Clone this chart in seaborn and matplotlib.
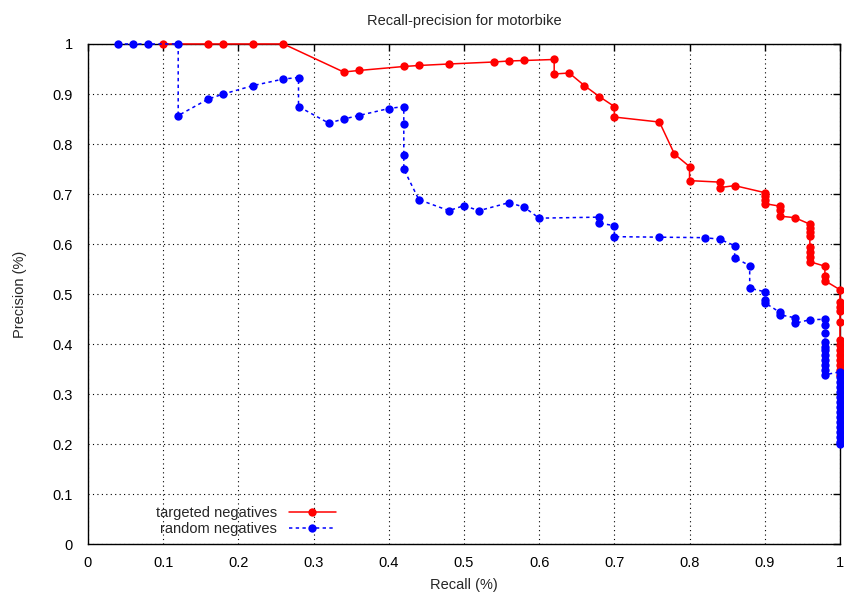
import numpy as np
import pandas as pd
import matplotlib
matplotlib.use("Agg")
import matplotlib.pyplot as plt
import seaborn as sns

# targeted negatives (red)
recall_targeted = [0.10, 0.16, 0.18, 0.22, 0.26, 0.34, 0.36, 0.42, 0.44, 0.48,
                   0.54, 0.56, 0.58, 0.62, 0.62, 0.64, 0.66, 0.68, 0.70, 0.70,
                   0.76, 0.78, 0.80, 0.80, 0.84, 0.84, 0.86, 0.90, 0.90, 0.90,
                   0.90, 0.92, 0.92, 0.92, 0.94, 0.96, 0.96, 0.96, 0.96, 0.96,
                   0.96, 0.96, 0.96, 0.98, 0.98, 0.98, 1.0, 1.0, 1.0, 1.0,
                   1.0, 1.0, 1.0, 1.0, 1.0, 1.0, 1.0, 1.0, 1.0]
precision_targeted = [1.0, 1.0, 1.0, 1.0, 1.0, 0.944, 0.947, 0.955, 0.957, 0.96,
                      0.964, 0.966, 0.967, 0.969, 0.94, 0.942, 0.917, 0.895, 0.875, 0.854,
                      0.844, 0.78, 0.755, 0.727, 0.724, 0.713, 0.717, 0.703, 0.697, 0.688,
                      0.681, 0.676, 0.668, 0.656, 0.653, 0.64, 0.632, 0.625, 0.617, 0.595,
                      0.585, 0.575, 0.565, 0.556, 0.537, 0.527, 0.509, 0.485, 0.475, 0.467,
                      0.445, 0.408, 0.398, 0.388, 0.378, 0.368, 0.358, 0.348, 0.338]

# random negatives (blue)
recall_random = [0.04, 0.06, 0.08, 0.12, 0.12, 0.16, 0.18, 0.22, 0.26, 0.28,
                 0.28, 0.32, 0.34, 0.36, 0.40, 0.42, 0.42, 0.42, 0.42, 0.44,
                 0.48, 0.50, 0.52, 0.56, 0.58, 0.60, 0.68, 0.68, 0.70, 0.70,
                 0.76, 0.82, 0.84, 0.86, 0.86, 0.88, 0.88, 0.90, 0.90, 0.90,
                 0.92, 0.92, 0.94, 0.94, 0.96,
                 0.98, 0.98, 0.98, 0.98, 0.98, 0.98, 0.98, 0.98, 0.98, 0.98, 0.98,
                 1.0, 1.0, 1.0, 1.0, 1.0, 1.0, 1.0, 1.0, 1.0, 1.0, 1.0, 1.0, 1.0,
                 1.0, 1.0, 1.0]
precision_random = [1.0, 1.0, 1.0, 1.0, 0.857, 0.89, 0.9, 0.917, 0.93, 0.933,
                    0.875, 0.842, 0.85, 0.857, 0.871, 0.875, 0.84, 0.778, 0.75, 0.689,
                    0.667, 0.677, 0.667, 0.683, 0.674, 0.652, 0.654, 0.642, 0.637, 0.615,
                    0.614, 0.613, 0.61, 0.597, 0.573, 0.557, 0.512, 0.505, 0.489, 0.483,
                    0.464, 0.459, 0.453, 0.442, 0.449,
                    0.45, 0.439, 0.422, 0.405, 0.395, 0.389, 0.379, 0.369, 0.359, 0.349, 0.339,
                    0.345, 0.335, 0.325, 0.315, 0.305, 0.295, 0.285, 0.275, 0.265, 0.255,
                    0.245, 0.235, 0.225, 0.215, 0.205, 0.2]

tick_vals = [0, 0.1, 0.2, 0.3, 0.4, 0.5, 0.6, 0.7, 0.8, 0.9, 1]
tick_labels = ["0", "0.1", "0.2", "0.3", "0.4", "0.5", "0.6", "0.7", "0.8", "0.9", "1"]

sns.set_style("white")
plt.rcParams['font.family'] = ['Liberation Sans', 'DejaVu Sans']
plt.rcParams['font.size'] = 10.5

fig = plt.figure(figsize=(8.45, 5.95), dpi=100)
ax = fig.add_axes([0.1041, 0.0849, 0.8899, 0.8412])

df_t = pd.DataFrame({"recall": recall_targeted, "precision": precision_targeted})
df_r = pd.DataFrame({"recall": recall_random, "precision": precision_random})

sns.lineplot(data=df_t, x="recall", y="precision", ax=ax, sort=False, estimator=None,
             color="#ff0000", linewidth=1.1, marker="o", markersize=6,
             markeredgecolor="#ff0000", markeredgewidth=0, label="targeted negatives",
             clip_on=False, zorder=3)
sns.lineplot(data=df_r, x="recall", y="precision", ax=ax, sort=False, estimator=None,
             color="#0000ff", linewidth=1.1, linestyle=(0, (2.2, 2.2)), marker="o",
             markersize=6, markeredgecolor="#0000ff", markeredgewidth=0,
             label="random negatives", clip_on=False, zorder=4)

ax.set_xlim(0, 1)
ax.set_ylim(0, 1)
ax.set_xticks(tick_vals)
ax.set_xticklabels(tick_labels)
ax.set_yticks(tick_vals)
ax.set_yticklabels(tick_labels)
ax.grid(True, color="black", linestyle=(0, (1, 3)), linewidth=0.8)
ax.set_axisbelow(True)
for s in ax.spines.values():
    s.set_color("black")
    s.set_linewidth(1.0)
ax.tick_params(direction="in", length=5, width=1, top=True, right=True,
               colors="black", labelcolor="black")
ax.tick_params(axis="x", pad=8)
ax.tick_params(axis="y", pad=11)

ax.set_title("Recall-precision for motorbike", fontsize=10.5, pad=14)
ax.set_xlabel("Recall (%)", labelpad=6)
ax.set_ylabel("Precision (%)", labelpad=18)

leg = ax.legend(loc="lower left", bbox_to_anchor=(0.083, 0.006), frameon=False,
                markerfirst=False, handlelength=3.2, handletextpad=0.8,
                labelspacing=0.12, borderaxespad=0.0, borderpad=0.4)
for t in leg.get_texts():
    t.set_ha("right")

fig.savefig("out.png", dpi=100)
